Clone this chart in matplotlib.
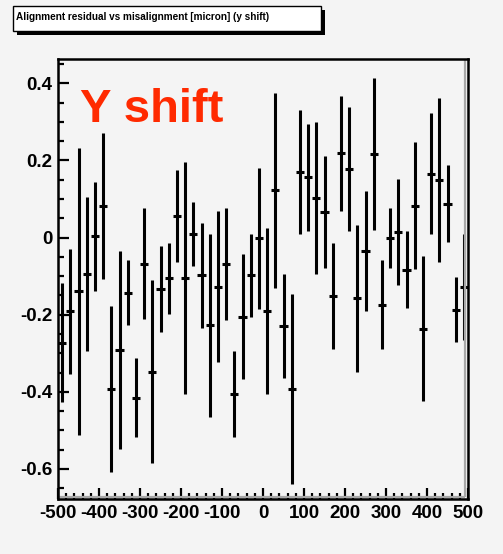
import numpy as np
import matplotlib
matplotlib.use("Agg")
import matplotlib.pyplot as plt
from matplotlib.patches import Rectangle
from matplotlib.ticker import MultipleLocator

plt.rcParams['font.family'] = ['Liberation Sans', 'DejaVu Sans']

# Profile: 50 bins of 20 micron from -500 to 500
bin_edges_lo = -500.0
bin_width = 20.0
means = [-0.273, -0.191, -0.139, -0.094, 0.003, 0.081, -0.392, -0.292, -0.143, -0.415,
         -0.068, -0.348, -0.133, -0.105, 0.056, -0.105, 0.010, -0.098, -0.228, -0.127,
         -0.068, -0.406, -0.205, -0.098, -0.002, -0.191, 0.122, -0.229, -0.393, 0.170,
         0.156, 0.103, 0.067, -0.151, 0.219, 0.178, -0.158, -0.035, 0.216, -0.174,
         -0.001, 0.014, -0.083, 0.083, -0.236, 0.166, 0.149, 0.088, -0.187, -0.128]
errors = [0.154, 0.162, 0.372, 0.200, 0.142, 0.189, 0.215, 0.257, 0.085, 0.103,
          0.144, 0.237, 0.111, 0.092, 0.119, 0.302, 0.083, 0.137, 0.238, 0.196,
          0.145, 0.112, 0.163, 0.108, 0.183, 0.216, 0.254, 0.135, 0.246, 0.161,
          0.138, 0.197, 0.145, 0.138, 0.149, 0.160, 0.190, 0.156, 0.197, 0.115,
          0.077, 0.138, 0.100, 0.165, 0.187, 0.156, 0.212, 0.100, 0.085, 0.137]
x_ticklabels = ['-500', '-400', '-300', '-200', '-100', '0', '100', '200', '300', '400', '500']
y_ticklabels = ['-0.6', '-0.4', '-0.2', '0', '0.2', '0.4']

centers = bin_edges_lo + bin_width * (np.arange(len(means)) + 0.5)

bg = '#f4f4f4'
W, H = 503, 554
fig = plt.figure(figsize=(W / 100, H / 100), dpi=100, facecolor=bg)
ax = fig.add_axes([58 / W, 1 - 499 / H, (468 - 58) / W, (499 - 59) / H], facecolor=bg)

ax.errorbar(centers, means, yerr=errors, xerr=bin_width / 2, fmt='none',
            ecolor='black', elinewidth=2.2, capsize=0)

ax.set_xlim(-500, 500)
ax.set_ylim(-0.678, 0.463)

ax.xaxis.set_minor_locator(MultipleLocator(20))
ax.yaxis.set_minor_locator(MultipleLocator(0.05))
ax.set_xticks(np.arange(-500, 501, 100))
ax.set_xticklabels(x_ticklabels)
ax.set_yticks([-0.6, -0.4, -0.2, 0.0, 0.2, 0.4])
ax.set_yticklabels(y_ticklabels)

ax.tick_params(which='major', direction='in', length=8, width=1.6, labelsize=13.5,
               top=False, right=False)
ax.tick_params(axis='x', which='major', pad=4)
ax.tick_params(axis='y', which='major', pad=4)
ax.tick_params(which='minor', direction='in', length=4, width=1.6, top=False, right=False)
for lbl in ax.get_xticklabels() + ax.get_yticklabels():
    lbl.set_fontweight('bold')

for s in ax.spines.values():
    s.set_linewidth(1.8)
    s.set_color('black')

# bevel shading inside the right and bottom frame edges
ax.plot([0.993, 0.993], [0.004, 1.0], transform=ax.transAxes, color='#a8a8a8', lw=1.6,
        solid_capstyle='butt')
ax.plot([0.0, 0.993], [0.005, 0.005], transform=ax.transAxes, color='#a8a8a8', lw=1.6,
        solid_capstyle='butt')

ax.text(-446, 0.30, 'Y shift', color='#ff2a00', fontsize=34, fontweight='bold',
        ha='left', va='baseline')

# title box with drop shadow
def px_rect(x0, y0, x1, y1, **kw):
    return Rectangle((x0 / W, 1 - y1 / H), (x1 - x0) / W, (y1 - y0) / H,
                     transform=fig.transFigure, **kw)

fig.patches.append(px_rect(17, 10, 325, 35, facecolor='black', edgecolor='none'))
fig.patches.append(px_rect(13, 6, 321, 31, facecolor='white', edgecolor='black', linewidth=1.0))
fig.text(15.5 / W, 1 - 19.5 / H, 'Alignment residual vs misalignment [micron] (y shift)',
         fontsize=7.2, fontweight='bold', ha='left', va='baseline')

fig.savefig('out.png', dpi=100, facecolor=bg)
